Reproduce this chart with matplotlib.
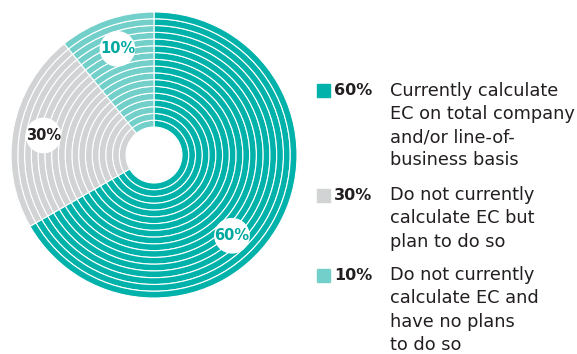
# ring donut showing how firms calculate EC

import matplotlib.pyplot as plt
import numpy as np

pct = [60, 30, 10]
# slice sizes as they are drawn in the picture (degrees share)
slice_share = [66.7, 22.5, 10.8]
descriptions = [
    "Currently calculate\nEC on total company\nand/or line-of-\nbusiness basis",
    "Do not currently\ncalculate EC but\nplan to do so",
    "Do not currently\ncalculate EC and\nhave no plans\nto do so",
]
colors = ['#00b2a9', '#d1d3d4', '#72cfca']
label_colors = ['#00a99f', '#231f20', '#00a99f']

W, H = 577, 354
fig = plt.figure(figsize=(W / 100, H / 100), dpi=100)
fig.patch.set_facecolor('white')

# axes placed so the pie sits at centre (154,155) px with radius 143 px
cx, cy, R = 154, 155, 143
ax = fig.add_axes([(cx - R) / W, (H - cy - R) / H, 2 * R / W, 2 * R / H])
ax.set_aspect('equal')
ax.axis('off')

# concentric rings
n_rings = 17
r_in = 28 / R
ring_w = (1 - r_in) / n_rings
for i in range(n_rings):
    r = r_in + (i + 1) * ring_w
    ax.pie(slice_share, radius=r, colors=colors, startangle=90, counterclock=False,
           wedgeprops=dict(width=ring_w, edgecolor='white', linewidth=0.8))
ax.set_xlim(-1, 1)
ax.set_ylim(-1, 1)

# percent bubbles
label_ang = [-46, 170, 109]
for p, ang, c in zip(pct, label_ang, label_colors):
    x = 0.785 * np.cos(np.deg2rad(ang))
    y = 0.785 * np.sin(np.deg2rad(ang))
    ax.add_patch(plt.Circle((x, y), 0.12, color='white', zorder=5))
    ax.text(x, y, f'{p}%', ha='center', va='center', fontsize=10.5,
            fontweight='bold', color=c, family='DejaVu Sans', zorder=6)

# legend on the right
row_top = [90.5, 195, 275]
line_h = 23.3
for p, desc, c, y0 in zip(pct, descriptions, colors, row_top):
    fig.patches.append(plt.Rectangle((317 / W, 1 - (y0 + 6.5) / H), 13 / W, 13 / H,
                                     transform=fig.transFigure, color=c))
    fig.text(334 / W, 1 - y0 / H, f'{p}%', ha='left', va='center', fontsize=11.5,
             fontweight='bold', color='#231f20', family='DejaVu Sans')
    for k, line in enumerate(desc.split('\n')):
        fig.text(390 / W, 1 - (y0 + k * line_h) / H, line, ha='left', va='center',
                 fontsize=12.8, color='#231f20', family='DejaVu Sans')

fig.savefig('out.png', dpi=100)
